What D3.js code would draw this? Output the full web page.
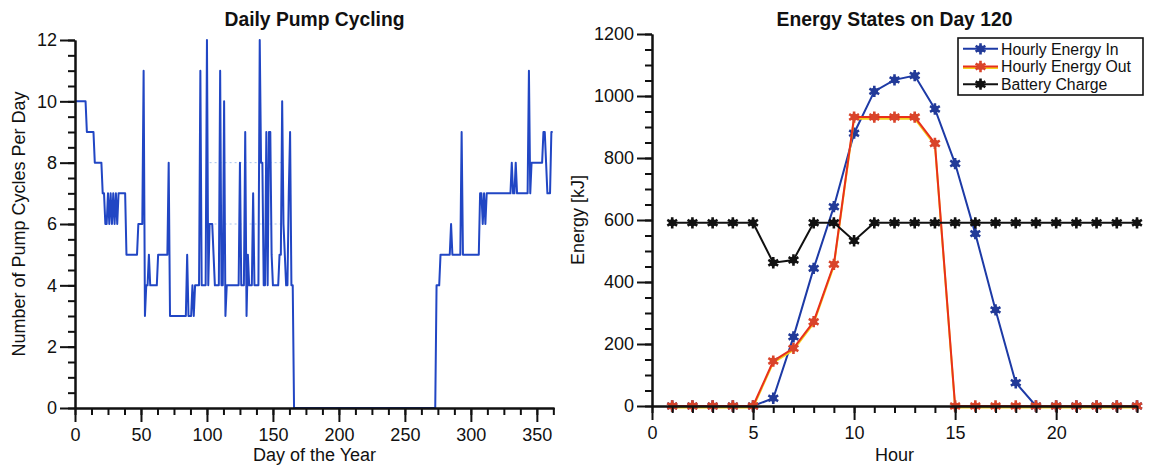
<!DOCTYPE html>
<html>
<head>
<meta charset="utf-8">
<script src="https://cdn.jsdelivr.net/npm/d3@7"></script>
<style>
  body { margin: 0; background: #fff; }
  text { font-family: "Liberation Sans", Arial, Helvetica, sans-serif; fill: #111; }
</style>
</head>
<body>
<svg id="chart" width="1151" height="466"></svg>
<script>
// ---------- Daily pump cycling (one value per day, day 0 .. 362) ----------
const pumpCycles = [
  10,10,10,10,10,10,10,10,10,9,     // 0
  9,9,9,9,9,8,8,8,8,8,              // 10
  8,7,7,6,6,7,6,7,6,7,              // 20
  6,7,6,7,7,7,7,7,7,5,              // 30
  5,5,5,5,5,5,5,5,6,6,              // 40
  6,6,11,3,4,4,5,4,4,4,             // 50
  4,4,4,5,5,5,5,5,5,5,              // 60
  5,8,3,3,3,3,3,3,3,3,              // 70
  3,3,3,3,3,5,3,3,3,4,              // 80
  3,4,4,4,4,11,4,4,4,4,             // 90
  12,4,6,6,6,5,4,4,4,4,             // 100
  11,4,4,10,3,4,4,4,4,4,            // 110
  4,4,4,4,4,8,4,4,4,9,              // 120
  3,5,4,4,4,7,4,4,4,4,              // 130
  12,8,8,4,4,9,4,9,9,5,             // 140
  4,4,4,4,4,5,5,10,6,5,             // 150
  4,4,7,9,4,4,0,0,0,0,              // 160
  0,0,0,0,0,0,0,0,0,0,              // 170
  0,0,0,0,0,0,0,0,0,0,              // 180
  0,0,0,0,0,0,0,0,0,0,              // 190
  0,0,0,0,0,0,0,0,0,0,              // 200
  0,0,0,0,0,0,0,0,0,0,              // 210
  0,0,0,0,0,0,0,0,0,0,              // 220
  0,0,0,0,0,0,0,0,0,0,              // 230
  0,0,0,0,0,0,0,0,0,0,              // 240
  0,0,0,0,0,0,0,0,0,0,              // 250
  0,0,0,0,0,0,0,0,0,0,              // 260
  0,0,0,0,4,4,4,5,5,5,              // 270
  5,5,5,5,5,6,5,5,5,5,              // 280
  5,5,5,9,5,5,5,5,5,5,              // 290
  5,5,5,5,5,5,5,7,7,6,              // 300
  7,6,7,7,7,7,7,7,7,7,              // 310
  7,7,7,7,7,7,7,7,7,7,              // 320
  7,8,7,7,8,7,7,7,7,7,              // 330
  7,7,7,7,11,7,8,8,8,8,             // 340
  8,8,8,8,8,9,9,8,7,7,              // 350
  7,9,9                             // 360
];
const dayTicks = [0, 50, 100, 150, 200, 250, 300, 350];
const cycleTicks = [0, 2, 4, 6, 8, 10, 12];
// faint reference levels shown behind the busy spring stretch
const guideLevels = [6, 8];
const guideSpan = [102, 158];

// ---------- Energy states on day 120 (hourly) ----------
const hours = [1,2,3,4,5,6,7,8,9,10,11,12,13,14,15,16,17,18,19,20,21,22,23,24];
const energyIn  = [0,0,0,0,0,25,223,444,643,880,1015,1052,1066,958,782,556,310,75,0,0,0,0,0,0];
const energyOut = [0,0,0,0,0,145,186,272,457,932,932,932,932,847,0,0,0,0,0,0,0,0,0,0];
const batteryCharge = [591,591,591,591,591,462,471,591,591,533,591,591,591,591,591,591,591,591,591,591,591,591,591,591];
const hourTicks = [0, 5, 10, 15, 20];
const energyTicks = [0, 200, 400, 600, 800, 1000, 1200];
const seriesNames = ["Hourly Energy In", "Hourly Energy Out", "Battery Charge"];

const svg = d3.select("#chart");

function styleAxis(g) {
  g.selectAll("path.domain").attr("stroke", "#111").attr("stroke-width", 2);
  g.selectAll(".tick line").attr("stroke", "#111").attr("stroke-width", 2);
  g.selectAll(".tick text").attr("font-size", 18).attr("fill", "#111");
}

function drawFrame(x, y, majorX, minorX, majorY, minorY, title, xTitle, yTitle, yTitleX) {
  const [x0, x1] = x.range();
  const [y0, y1] = y.range();
  // minor ticks
  svg.append("g").attr("transform", `translate(0,${y0})`)
    .call(d3.axisBottom(x).tickValues(minorX).tickSize(7).tickSizeOuter(0).tickFormat(""))
    .call(styleAxis);
  svg.append("g").attr("transform", `translate(${x0},0)`)
    .call(d3.axisLeft(y).tickValues(minorY).tickSize(7).tickSizeOuter(0).tickFormat(""))
    .call(styleAxis);
  // major ticks with labels
  svg.append("g").attr("transform", `translate(0,${y0})`)
    .call(d3.axisBottom(x).tickValues(majorX).tickSize(14).tickSizeOuter(0).tickPadding(6).tickFormat(d3.format("d")))
    .call(styleAxis);
  svg.append("g").attr("transform", `translate(${x0},0)`)
    .call(d3.axisLeft(y).tickValues(majorY).tickSize(15).tickSizeOuter(0).tickPadding(3).tickFormat(d3.format("d")))
    .call(styleAxis);

  svg.append("text").attr("x", (x0 + x1) / 2).attr("y", 26)
    .attr("text-anchor", "middle").attr("font-size", 19.3).attr("font-weight", "bold")
    .text(title);
  svg.append("text").attr("x", (x0 + x1) / 2).attr("y", 461)
    .attr("text-anchor", "middle").attr("font-size", 18)
    .text(xTitle);
  svg.append("text")
    .attr("transform", `translate(${yTitleX},${(y0 + y1) / 2}) rotate(-90)`)
    .attr("text-anchor", "middle").attr("dy", "0.35em").attr("font-size", 18)
    .text(yTitle);
}

// ================= Left panel: Daily Pump Cycling =================
{
  const x = d3.scaleLinear().domain([0, 363]).range([75, 554]);
  const y = d3.scaleLinear().domain([0, 12]).range([408, 40]);

  const g = svg.append("g");
  guideLevels.forEach(level => {
    g.append("line")
      .attr("x1", x(guideSpan[0])).attr("x2", x(guideSpan[1]))
      .attr("y1", y(level)).attr("y2", y(level))
      .attr("stroke", "#a9c4ee").attr("stroke-width", 1)
      .attr("stroke-dasharray", "2,3");
  });

  const line = d3.line().x((d, i) => x(i)).y(d => y(d));
  g.append("path").datum(pumpCycles)
    .attr("d", line)
    .attr("fill", "none").attr("stroke", "#2146c4")
    .attr("stroke-width", 2).attr("stroke-linejoin", "round");

  drawFrame(x, y, dayTicks, d3.range(0, 363, 12.5), cycleTicks, d3.range(0, 12.01, 0.5),
    "Daily Pump Cycling", "Day of the Year", "Number of Pump Cycles Per Day", 19);
}

// ================= Right panel: Energy States on Day 120 =================
{
  const x = d3.scaleLinear().domain([0, 24]).range([652, 1137]);
  const y = d3.scaleLinear().domain([0, 1200]).range([406, 34]);

  const star = d3.symbol().type(d3.symbolAsterisk).size(90);
  function marker(sel, color) {
    sel.append("path").attr("d", star)
      .attr("fill", "none").attr("stroke", color).attr("stroke-width", 2.6);
    sel.append("circle").attr("r", 3.6).attr("fill", color);
  }

  const line = d3.line().x((d, i) => x(hours[i])).y(d => y(d));

  function drawSeries(values, lineColor, markerColor, shadow) {
    const g = svg.append("g");
    if (shadow) {
      g.append("path").datum(values).attr("d", line)
        .attr("transform", "translate(0,1.6)")
        .attr("fill", "none").attr("stroke", shadow).attr("stroke-width", 2);
    }
    g.append("path").datum(values).attr("d", line)
      .attr("fill", "none").attr("stroke", lineColor).attr("stroke-width", 2);
    g.selectAll("g.m").data(values).join("g").attr("class", "m")
      .attr("transform", (d, i) => `translate(${x(hours[i])},${y(d)})`)
      .each(function () { marker(d3.select(this), markerColor); });
  }

  const colors = [
    { line: "#1d3aa6", marker: "#223a98", shadow: null },
    { line: "#e8301c", marker: "#d9442a", shadow: "#f4d21c" },
    { line: "#111111", marker: "#111111", shadow: null }
  ];
  drawSeries(energyIn, colors[0].line, colors[0].marker, null);
  drawSeries(energyOut, colors[1].line, colors[1].marker, colors[1].shadow);
  drawSeries(batteryCharge, colors[2].line, colors[2].marker, null);

  drawFrame(x, y, hourTicks, d3.range(0, 24.01, 1), energyTicks, d3.range(0, 1200.1, 50),
    "Energy States on Day 120", "Hour", "Energy [kJ]", 578);

  // legend
  const lg = svg.append("g").attr("transform", "translate(958,38)");
  lg.append("rect").attr("width", 185).attr("height", 57)
    .attr("fill", "#fff").attr("stroke", "#111").attr("stroke-width", 1.6);
  seriesNames.forEach((name, i) => {
    const row = lg.append("g").attr("transform", `translate(0,${10.8 + i * 17.7})`);
    if (colors[i].shadow) {
      row.append("line").attr("x1", 5).attr("x2", 40).attr("y1", 1.4).attr("y2", 1.4)
        .attr("stroke", colors[i].shadow).attr("stroke-width", 2);
    }
    row.append("line").attr("x1", 5).attr("x2", 40).attr("y1", 0).attr("y2", 0)
      .attr("stroke", colors[i].line).attr("stroke-width", 2);
    const m = row.append("g").attr("transform", "translate(22.5,0)");
    marker(m, colors[i].marker);
    row.append("text").attr("x", 43).attr("y", 0).attr("dy", "0.36em")
      .attr("font-size", 15.8).text(name);
  });
}
</script>
</body>
</html>
